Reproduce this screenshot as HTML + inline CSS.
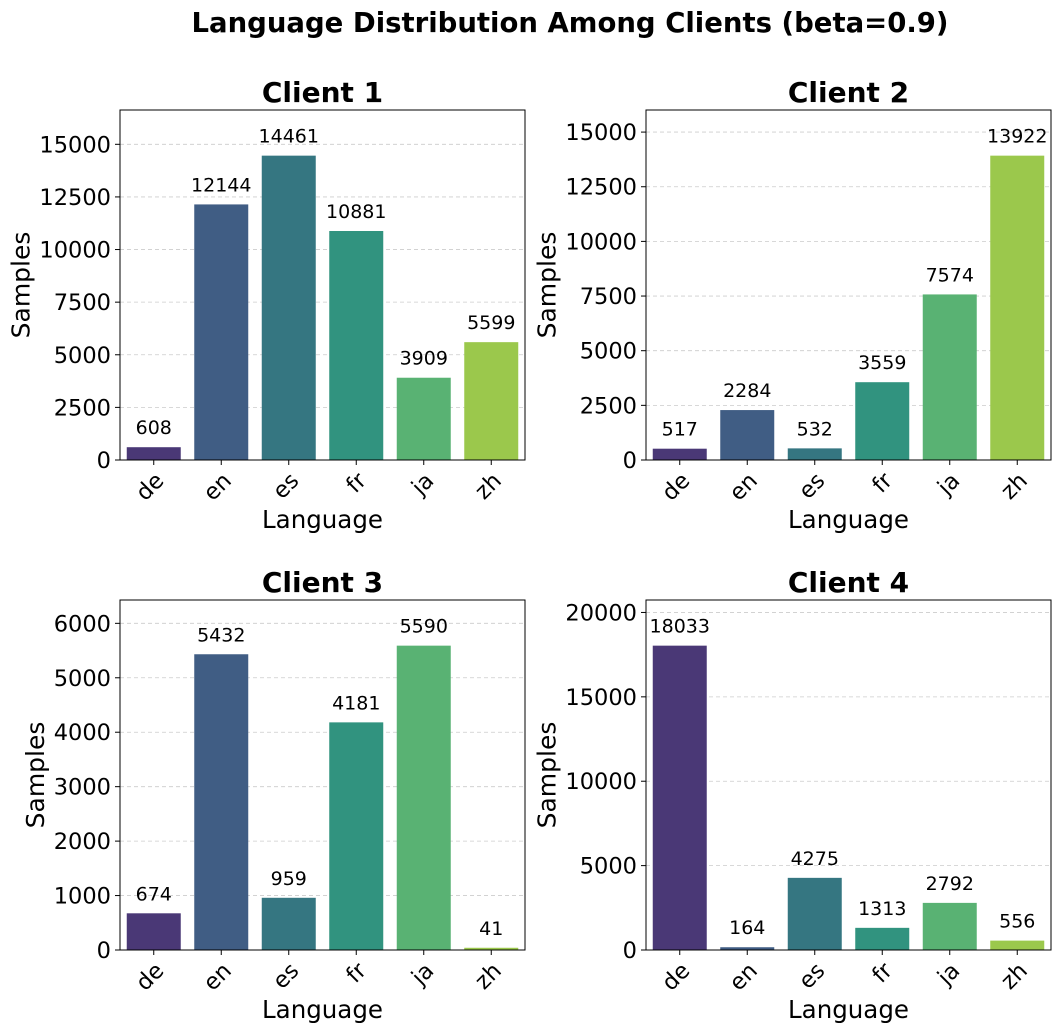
<!DOCTYPE html>
<html><head><meta charset="utf-8"><style>
html,body{margin:0;padding:0;background:#fff;}
svg{display:block;font-family:"DejaVu Sans","Liberation Sans",sans-serif;}
</style></head><body>
<svg id="chart" width="1060" height="1033" viewBox="0 0 1060 1033" xmlns="http://www.w3.org/2000/svg">
<text x="570" y="32" text-anchor="middle" font-size="27.5" font-weight="bold">Language Distribution Among Clients (beta=0.9)</text>
</svg>
<script>
const categories = ["de","en","es","fr","ja","zh"];
const client1 = [608,12144,14461,10881,3909,5599];
const client2 = [517,2284,532,3559,7574,13922];
const client3 = [674,5432,959,4181,5590,41];
const client4 = [18033,164,4275,1313,2792,556];
const ticks1 = [0,2500,5000,7500,10000,12500,15000];
const ticks2 = [0,2500,5000,7500,10000,12500,15000];
const ticks3 = [0,1000,2000,3000,4000,5000,6000];
const ticks4 = [0,5000,10000,15000,20000];
const clientNames = ["Client 1","Client 2","Client 3","Client 4"];
const colors = ["#4a3876","#405d84","#357681","#31937f","#59b273","#9bc84c"];
const NS = "http://www.w3.org/2000/svg";
const svg = document.getElementById('chart');
function mk(tag, attrs, parent){const e=document.createElementNS(NS,tag);for(const k in attrs)e.setAttribute(k,attrs[k]);(parent||svg).appendChild(e);return e;}
const panels = [
 {x:120,y:110,data:client1,ticks:ticks1},
 {x:646,y:110,data:client2,ticks:ticks2},
 {x:120,y:600,data:client3,ticks:ticks3},
 {x:646,y:600,data:client4,ticks:ticks4}
];
const W=405,H=350;
panels.forEach((p,pi)=>{
  const g=mk('g',{});
  
  
  const ymax=Math.max(...p.data)*1.15;
  const ys=v=>p.y+H-v/ymax*H;
  const bw=W/categories.length;
  const xs=i=>p.x+bw*(i+0.5);
  p.ticks.forEach(t=>{
    const gl=mk('line',{x1:p.x,x2:p.x+W,y1:ys(t),y2:ys(t),stroke:'#cccccc','stroke-dasharray':'4,3','stroke-width':0.8},g);
    
    
    mk('line',{x1:p.x-5,x2:p.x,y1:ys(t),y2:ys(t),stroke:'#000'},g);
    const tl=mk('text',{x:p.x-9,y:ys(t)+8,'text-anchor':'end','font-size':22.5},g);
    tl.textContent=t;
    
    
  });
  p.data.forEach((v,i)=>{
    const b=mk('rect',{x:xs(i)-bw*0.4,y:ys(v),width:bw*0.8,height:ys(0)-ys(v),fill:colors[i]},g);
    
    
    const vl=mk('text',{x:xs(i),y:ys(v)-13,'text-anchor':'middle','font-size':19},g);
    vl.textContent=v;
    
    
    mk('line',{x1:xs(i),x2:xs(i),y1:p.y+H,y2:p.y+H+5,stroke:'#000'},g);
    const cx=xs(i), cy=p.y+H+22;
    const xl=mk('text',{x:cx+8,y:cy+8,'text-anchor':'end','font-size':22.5,transform:'rotate(-45 '+cx+' '+cy+')'},g);
    xl.textContent=categories[i];
    
    
  });
  const fr=mk('rect',{x:p.x,y:p.y,width:W,height:H,fill:'none',stroke:'#000','stroke-width':1},g);
  
  
  const t=mk('text',{x:p.x+W/2,y:p.y-8,'text-anchor':'middle','font-size':28,'font-weight':'bold'},g);
  t.textContent=clientNames[pi];
  
  
  const xt=mk('text',{x:p.x+W/2,y:p.y+H+68,'text-anchor':'middle','font-size':24.5},g);
  xt.textContent='Language';
  
  
  const maxLen=Math.max(...p.ticks.map(t=>String(t).length));
  const ax=p.x-26-maxLen*14.5+8;
  const yt=mk('text',{x:ax,y:p.y+H/2,'text-anchor':'middle','font-size':25,transform:'rotate(-90 '+ax+' '+(p.y+H/2)+')'},g);
  yt.textContent='Samples';
  
  
});
</script>
</body></html>
